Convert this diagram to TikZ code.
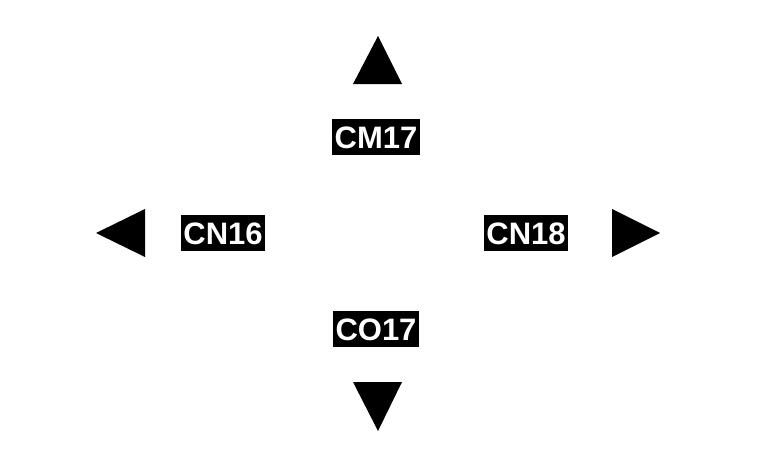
\documentclass[tikz,border=0pt]{standalone}
\usepackage{fontspec}
\setmainfont{Liberation Sans}
\begin{document}
\begin{tikzpicture}[x=1pt,y=-1pt,
  lbl/.style={fill=black,text=white,font=\bfseries\fontsize{31}{31}\selectfont,
    inner xsep=2.5pt,inner ysep=0pt,text height=23pt,text depth=0pt,minimum height=36pt,anchor=center},
  tri/.style={fill=black}]
\useasboundingbox (0,0) rectangle (760,450);
\node[lbl] (cm17) at (376,137) {CM17};
\node[lbl] (cn16) at (223,233) {CN16};
\node[lbl] (cn18) at (526,233) {CN18};
\node[lbl] (co17) at (376,329) {CO17};
\fill[tri] (378,36) -- (402,84) -- (353,84) -- cycle;
\fill[tri] (378,431) -- (402,382) -- (353,382) -- cycle;
\fill[tri] (96,233) -- (145,209) -- (145,257) -- cycle;
\fill[tri] (660,233) -- (612,209) -- (612,257) -- cycle;
\end{tikzpicture}
\end{document}
